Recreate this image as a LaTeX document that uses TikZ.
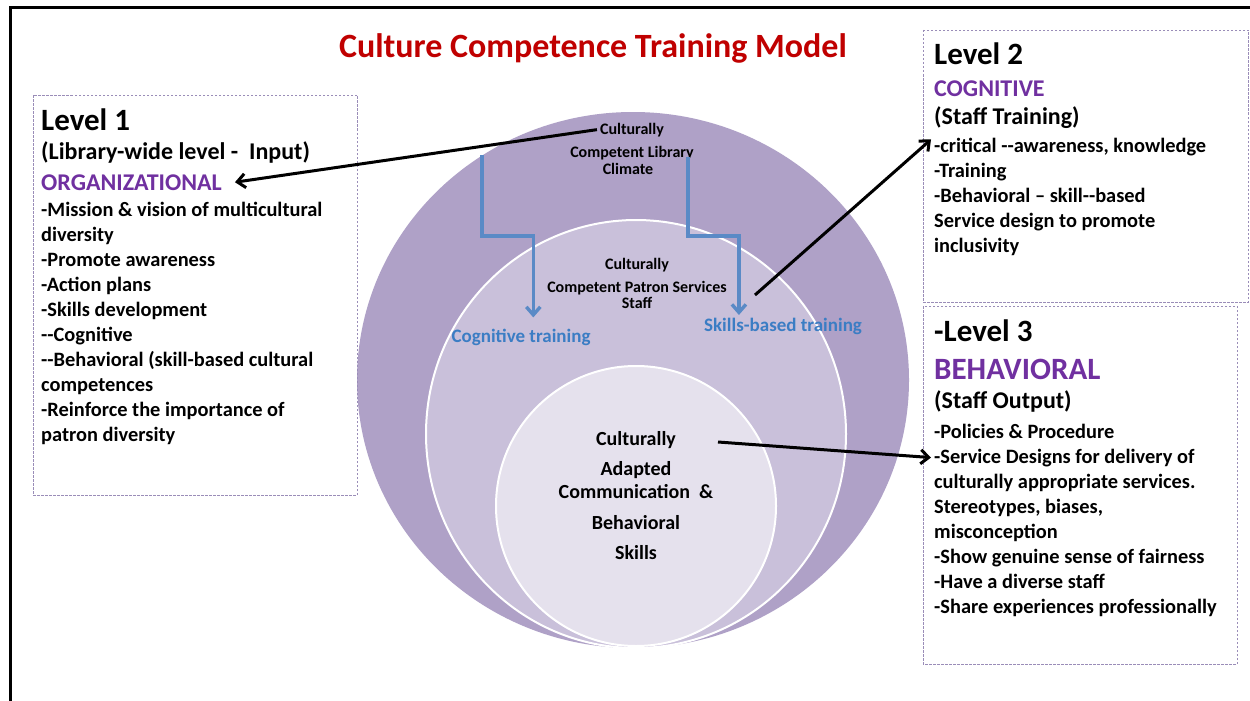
\documentclass[tikz,border=0pt]{standalone}
\usepackage{fontspec}
\setmainfont{Carlito}
\usetikzlibrary{arrows.meta,positioning}
\definecolor{titleRed}{HTML}{C00000}
\definecolor{levelPurple}{HTML}{7030A0}
\definecolor{ringOuter}{HTML}{AFA1C7}
\definecolor{ringMid}{HTML}{C9C0DA}
\definecolor{ringInner}{HTML}{E5E1ED}
\definecolor{flowBlue}{HTML}{5A8AC6}
\definecolor{flowText}{HTML}{3B7DC4}
\definecolor{boxEdge}{HTML}{9A8DB8}
\newcommand{\sizept}[1]{\fontsize{#1}{#1}\selectfont}

\begin{document}
\begin{tikzpicture}[x=1pt,y=-1pt,
  every node/.style={inner sep=0pt,font=\bfseries},
  levelbox/.style={draw=boxEdge,line width=0.8pt,dash pattern=on 2.5pt off 1.5pt},
  txt/.style={anchor=base west,font=\bfseries\sizept{20.4}},
  heading/.style={anchor=base west,font=\bfseries\sizept{31}},
  sub/.style={anchor=base west,font=\bfseries\sizept{24}},
  tag/.style={anchor=base west,font=\bfseries\sizept{24},text=levelPurple},
  ringtxt/.style={anchor=base,font=\bfseries\sizept{16}},
  coretxt/.style={anchor=base,font=\bfseries\sizept{20}},
  flowlbl/.style={anchor=base,font=\bfseries\sizept{19},text=flowText},
  link/.style={line width=3pt,-{Straight Barb[length=8pt,width=14pt]}},
  flow/.style={draw=flowBlue,line width=3.4pt,-{Straight Barb[length=8pt,width=14pt]}}
]
  \useasboundingbox (0,0) rectangle (1250,701);
  \fill[white] (0,0) rectangle (1250,701);
  % frame (only top and left edges)
  \draw[line width=3pt] (10,701) -- (10,8) -- (1250,8);

  \node[anchor=base,font=\bfseries\sizept{34},text=titleRed] (title) at (593,58)
    {Culture Competence Training Model};

  % nested rings
  \fill[ringOuter] (633,380) ellipse [x radius=276pt,y radius=268pt];
  \draw[white,line width=2pt,fill=ringMid] (636,434) ellipse [x radius=210pt,y radius=214pt];
  \draw[white,line width=2pt,fill=ringInner] (636,506) ellipse [x radius=140pt,y radius=140pt];

  \node[ringtxt] (clim1) at (632,134) {Culturally};
  \node[ringtxt] (clim2) at (632,157) {Competent Library};
  \node[ringtxt] (clim3) at (628,174) {Climate};
  \node[ringtxt] (staff1) at (637,269) {Culturally};
  \node[ringtxt] (staff2) at (637,292) {Competent Patron Services};
  \node[ringtxt] (staff3) at (637,308) {Staff};
  \node[coretxt] (core1) at (636,445) {Culturally};
  \node[coretxt] (core2) at (636,475) {Adapted};
  \node[coretxt] (core3) at (636,498) {Communication\ \ \&};
  \node[coretxt] (core4) at (636,529) {Behavioral};
  \node[coretxt] (core5) at (636,559) {Skills};

  \node[flowlbl] (coglbl) at (521,342) {Cognitive training};
  \node[flowlbl] (skilllbl) at (783,331) {Skills-based training};

  % level 1
  \draw[levelbox] (33,95) rectangle (357,495);
  \node[heading] (lv1) at (41,130) {Level 1};
  \node[sub] (lv1sub) at (41,159) {(Library-wide level -\ \ Input)};
  \node[tag] (org) at (41,190) {ORGANIZATIONAL};
  \foreach \t [count=\i from 0] in {-Mission \& vision of multicultural,diversity,
      -Promote awareness,-Action plans,-Skills development,-{}-Cognitive,
      -{}-Behavioral (skill-based cultural,competences,
      -Reinforce the importance of,patron diversity}
    \node[txt] (one\i) at (41,216+25*\i) {\t};

  % level 2
  \draw[levelbox] (923,30) rectangle (1248,302);
  \node[heading] (lv2) at (934,64) {Level 2};
  \node[tag] (cog) at (934,96) {COGNITIVE};
  \node[sub] (lv2sub) at (934,124) {(Staff Training)};
  \foreach \t [count=\i from 0] in {{-critical -{}-awareness, knowledge},-Training,
      -Behavioral – skill-{}-based,Service design to promote,inclusivity}
    \node[txt] (two\i) at (934,152+25*\i) {\t};

  % level 3
  \draw[levelbox] (923,306) rectangle (1237,664);
  \node[heading] (lv3) at (934,341) {-Level 3};
  \node[tag,font=\bfseries\sizept{31}] (beh) at (934,379) {BEHAVIORAL};
  \node[sub] (lv3sub) at (934,408) {(Staff Output)};
  \foreach \t [count=\i from 0] in {-Policies \& Procedure,-Service Designs for delivery of,
      culturally appropriate services.,{Stereotypes, biases,},misconception,
      -Show genuine sense of fairness,-Have a diverse staff,-Share experiences professionally}
    \node[txt] (three\i) at (934,438+25*\i) {\t};

  % training flows
  \coordinate (cogTop) at (482,155);
  \coordinate (skillTop) at (688,157);
  \draw[flow] (cogTop) -- ++(0,81) -| ([xshift=82pt,yshift=11pt]coglbl.north west);
  \draw[flow] (skillTop) -- ++(0,79) -| ([xshift=35pt,yshift=2.5pt]skilllbl.north west);

  % links to the level boxes
  \coordinate (staffRim) at (755,295);
  \coordinate (coreRim) at (718,442);
  \draw[link] ([xshift=-3pt]clim1.west) -- ([xshift=13pt]org.east);
  \draw[link] (staffRim) -- ([xshift=-3pt,yshift=-2pt]two0.north west);
  \draw[link] (coreRim) -- ([xshift=-3pt]three1.west);
\end{tikzpicture}
\end{document}
